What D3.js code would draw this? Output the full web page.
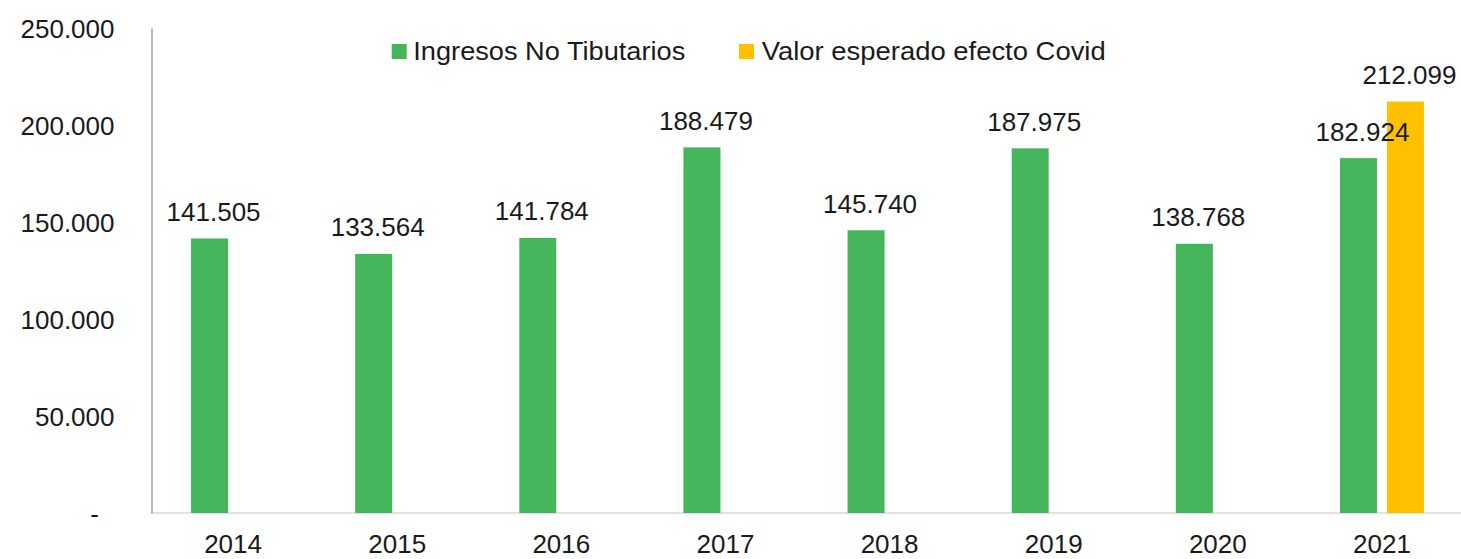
<!DOCTYPE html>
<html>
<head>
<meta charset="utf-8">
<script src="https://cdn.jsdelivr.net/npm/d3@7"></script>
<style>
  html, body { margin: 0; padding: 0; background: #fff; }
  svg { display: block; }
  text { font-family: "Liberation Sans", Arial, sans-serif; fill: #1a1a1a; }
</style>
</head>
<body>
<svg id="chart" width="1461" height="559"></svg>
<script>
// ---- Data ----
const categories = ["2014", "2015", "2016", "2017", "2018", "2019", "2020", "2021"];
const ingresosNoTributarios = [141505, 133564, 141784, 188479, 145740, 187975, 138768, 182924];
const valorEsperadoCovid = [null, null, null, null, null, null, null, 212099];
const seriesNames = ["Ingresos No Tibutarios", "Valor esperado efecto Covid"];
const seriesColors = ["#45B55B", "#FFC000"];
const yTicks = [0, 50000, 100000, 150000, 200000, 250000];

// ---- Layout ----
const svg = d3.select("#chart");
const W = 1461, H = 559;
const plotLeft = 151.5, plotRight = 1464, plotTop = 28, plotBottom = 513;
const fontSize = 26;

const locale = d3.formatLocale({ decimal: ",", thousands: ".", grouping: [3], currency: ["", ""] });
const fmt = locale.format(",.0f");

const x0 = d3.scaleBand().domain(categories).range([151, plotRight]).paddingInner(0).paddingOuter(0);
const groupW = 84;
const x1 = d3.scaleBand().domain([0, 1])
  .range([x0.bandwidth() / 2 - groupW / 2, x0.bandwidth() / 2 + groupW / 2])
  .paddingInner(2 - groupW / 47).paddingOuter(0);
const y = d3.scaleLinear().domain([0, 250000]).range([plotBottom, plotTop]);

// ---- X axis (light gray line) ----
const xAxis = svg.append("g")
  .attr("transform", `translate(0,${plotBottom})`)
  .call(d3.axisBottom(x0).tickSize(0).tickSizeOuter(0));
xAxis.select(".domain").attr("stroke", "#d9d9d9").attr("stroke-width", 1.5)
  .attr("d", `M151,0H${W}`);
xAxis.selectAll("text")
  .attr("y", 40).attr("dy", 0)
  .style("font-family", '"Liberation Sans", Arial, sans-serif')
  .style("font-size", fontSize + "px")
  .attr("fill", "#1a1a1a");

// ---- Y axis ----
const yAxis = svg.append("g")
  .attr("transform", `translate(${plotLeft},0)`)
  .call(d3.axisLeft(y).tickValues(yTicks).tickSize(0).tickSizeOuter(0).tickPadding(37)
    .tickFormat(d => d === 0 ? "-" : fmt(d)));
yAxis.select(".domain").attr("stroke", "#8c8c8c").attr("stroke-width", 1.2);
yAxis.selectAll("text")
  .style("font-family", '"Liberation Sans", Arial, sans-serif')
  .style("font-size", fontSize + "px")
  .attr("fill", "#1a1a1a")
  .attr("dy", "0.35em");
yAxis.selectAll(".tick").filter(d => d === 0).select("text").attr("x", -(plotLeft - 99));

// ---- Bars ----
const seriesData = [ingresosNoTributarios, valorEsperadoCovid];
seriesData.forEach((vals, si) => {
  const g = svg.append("g");
  const rows = categories.map((c, i) => ({ c, v: vals[i] })).filter(d => d.v != null);
  g.selectAll("rect").data(rows).join("rect")
    .attr("x", d => x0(d.c) + x1(si))
    .attr("y", d => y(d.v))
    .attr("width", x1.bandwidth())
    .attr("height", d => y(0) - y(d.v))
    .attr("fill", seriesColors[si]);
});

// ---- Value labels ----
seriesData.forEach((vals, si) => {
  const rows = categories.map((c, i) => ({ c, v: vals[i] })).filter(d => d.v != null);
  svg.append("g").selectAll("text").data(rows).join("text")
    .attr("x", d => x0(d.c) + x1(si) + x1.bandwidth() / 2 + 4)
    .attr("y", d => y(d.v) - 17.5)
    .attr("text-anchor", "middle")
    .style("font-size", fontSize + "px")
    .text(d => fmt(d.v));
});

// ---- Legend ----
const legendItems = [
  { name: seriesNames[0], color: seriesColors[0], sx: 391.7, tx: 413.3, tl: 272 },
  { name: seriesNames[1], color: seriesColors[1], sx: 739, tx: 761.7, tl: 344 }
];
const lg = svg.append("g");
legendItems.forEach(it => {
  lg.append("rect").attr("x", it.sx).attr("y", 44).attr("width", 15).attr("height", 15).attr("fill", it.color);
  lg.append("text").attr("x", it.tx).attr("y", 60)
    .style("font-size", fontSize + "px")
    .attr("textLength", it.tl).attr("lengthAdjust", "spacingAndGlyphs")
    .text(it.name);
});
</script>
</body>
</html>
